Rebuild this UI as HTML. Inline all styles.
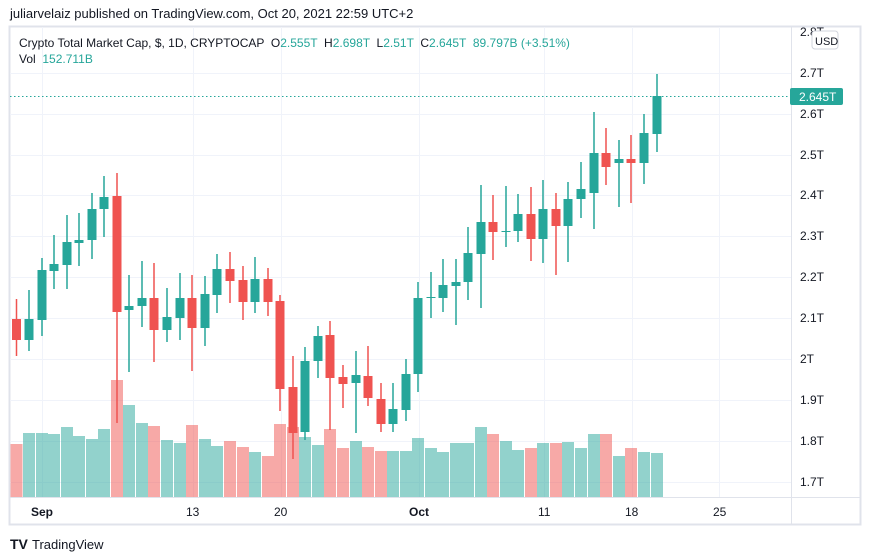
<!DOCTYPE html>
<html><head><meta charset="utf-8"><style>
body{margin:0;background:#fff;width:870px;height:560px;overflow:hidden;font-family:"Liberation Sans",sans-serif;}
svg{position:absolute;left:0;top:0}
.pre{white-space:pre}
</style></head><body>
<svg id="s" width="870" height="560" xmlns="http://www.w3.org/2000/svg" font-family="Liberation Sans, sans-serif">
<text x="10" y="18" font-size="13" fill="#131722">juliarvelaiz published on TradingView.com, Oct 20, 2021 22:59 UTC+2</text>
<rect x="9.5" y="26.5" width="851" height="498" fill="none" stroke="#e0e3eb" stroke-width="2"/>
<line x1="791.5" y1="27" x2="791.5" y2="524" stroke="#e0e3eb"/>
<line x1="10" y1="497.5" x2="860" y2="497.5" stroke="#e0e3eb"/>
<g id="grid" stroke="#f0f3fa" stroke-width="1"></g>
<g id="vol"></g>
<g id="cd"></g>
<line x1="10" y1="96.5" x2="791" y2="96.5" stroke="#26a69a" stroke-dasharray="1.5,2.5"/>
<g id="yl" font-size="12" fill="#131722"></g>
<rect x="790" y="88" width="53" height="17" rx="2" fill="#26a69a"/>
<text x="799" y="101" font-size="12" fill="#fff">2.645T</text>
<rect x="812" y="31" width="26" height="18" rx="3" fill="#fff" stroke="#d1d4dc"/>
<text x="815" y="45" font-size="11" fill="#131722">USD</text>
<g font-size="12" fill="#131722">
<text class="pre" x="19" y="47">Crypto Total Market Cap, $, 1D, CRYPTOCAP  O<tspan fill="#26a69a">2.555T</tspan>  H<tspan fill="#26a69a">2.698T</tspan>  L<tspan fill="#26a69a">2.51T</tspan>  C<tspan fill="#26a69a">2.645T  89.797B (+3.51%)</tspan></text>
<text class="pre" x="19" y="63">Vol  <tspan fill="#26a69a">152.711B</tspan></text>
</g>
<g font-size="12" fill="#131722">
<text x="31" y="516" font-weight="bold">Sep</text>
<text x="186" y="516">13</text>
<text x="274" y="516">20</text>
<text x="409" y="516" font-weight="bold">Oct</text>
<text x="538" y="516">11</text>
<text x="625" y="516">18</text>
<text x="713" y="516">25</text>
</g>
<text x="10" y="549" font-size="14" font-weight="bold" fill="#131722">TV</text>
<text x="32" y="549" font-size="13" fill="#131722">TradingView</text>
</svg>
<script>
var NS="http://www.w3.org/2000/svg";
function el(p,t,a){var e=document.createElementNS(NS,t);for(var k in a)e.setAttribute(k,a[k]);document.getElementById(p).appendChild(e);return e;}
var ticks=[["2.8T",32],["2.7T",73],["2.6T",114],["2.5T",155],["2.4T",195],["2.3T",236],["2.2T",277],["2.1T",318],["2T",359],["1.9T",400],["1.8T",441],["1.7T",482]];
ticks.forEach(function(t){if(t[1]>40)el("grid","line",{x1:10,x2:791,y1:t[1]+.5,y2:t[1]+.5});var tx=el("yl","text",{x:800,y:t[1]+4});tx.textContent=t[0];});
[42,193,281,419,544,632,719].forEach(function(x){el("grid","line",{x1:x+.5,x2:x+.5,y1:27,y2:497});});
var C=[[16.5,299,356,319,340,0,444],[29,290,351,319,340,1,433],[42,258,336,270,320,1,433],[54,235,289,264,271,1,434],[67,215,289,242,265,1,427],[79,213,266,240,243,1,436],[92,193,259,209,240,1,439],[104,176,237,197,209,1,429],[117,173,423,196,312,0,380],[129,275,372,306,310,1,405],[142,261,327,298,306,1,423],[154,263,362,298,330,0,426],[167,288,342,317,330,1,440],[180,273,340,298,318,1,443],[192,275,371,298,328,0,425],[205,276,346,294,328,1,439],[217,254,313,269,295,1,446],[230,252,303,269,281,0,441],[243,266,320,280,302,0,447],[255,257,313,279,302,1,452],[268,268,316,279,302,0,456],[280,295,411,301,389,0,424],[293,356,459,387,433,0,427],[305,347,440,361,432,1,437],[318,326,378,336,361,1,445],[330,321,430,335,378,0,429],[343,365,408,377,384,0,448],[356,351,433,375,383,1,441],[368,346,406,376,398,0,447],[381,383,432,399,424,0,451],[393,383,432,409,424,1,451],[406,359,421,374,410,1,451],[418,282,392,298,374,1,438],[431,272,318,297,298,1,448],[443,259,312,285,298,1,452],[456,259,325,282,286,1,443],[468,227,300,253,282,1,443],[481,185,308,222,254,1,427],[493,195,260,222,232,0,434],[506,186,247,231,232,1,441],[518,194,242,214,231,1,450],[531,187,261,214,239,0,448],[543,180,263,209,239,1,443],[556,193,275,209,226,0,443],[568,182,262,199,226,1,442],[581,162,218,189,199,1,448],[594,112,229,153,193,1,434],[606,128,185,153,167,0,434],[619,140,207,159,163,1,456],[631,135,203,159,163,0,448],[644,114,184,133,163,1,452],[657,74,152,96,134,1,453]];
C.forEach(function(c){var col=c[5]?"#26a69a":"#ef5350";var vc=c[5]?"rgba(38,166,154,0.5)":"rgba(239,83,80,0.5)";
el("vol","rect",{x:c[0]-6,y:c[6],width:12,height:497-c[6],fill:vc});
el("cd","rect",{x:c[0]-0.75,y:c[1],width:1.5,height:c[2]-c[1],fill:col});
el("cd","rect",{x:c[0]-4.5,y:c[3],width:9,height:Math.max(1,c[4]-c[3]),fill:col});});
</script>
</body></html>
